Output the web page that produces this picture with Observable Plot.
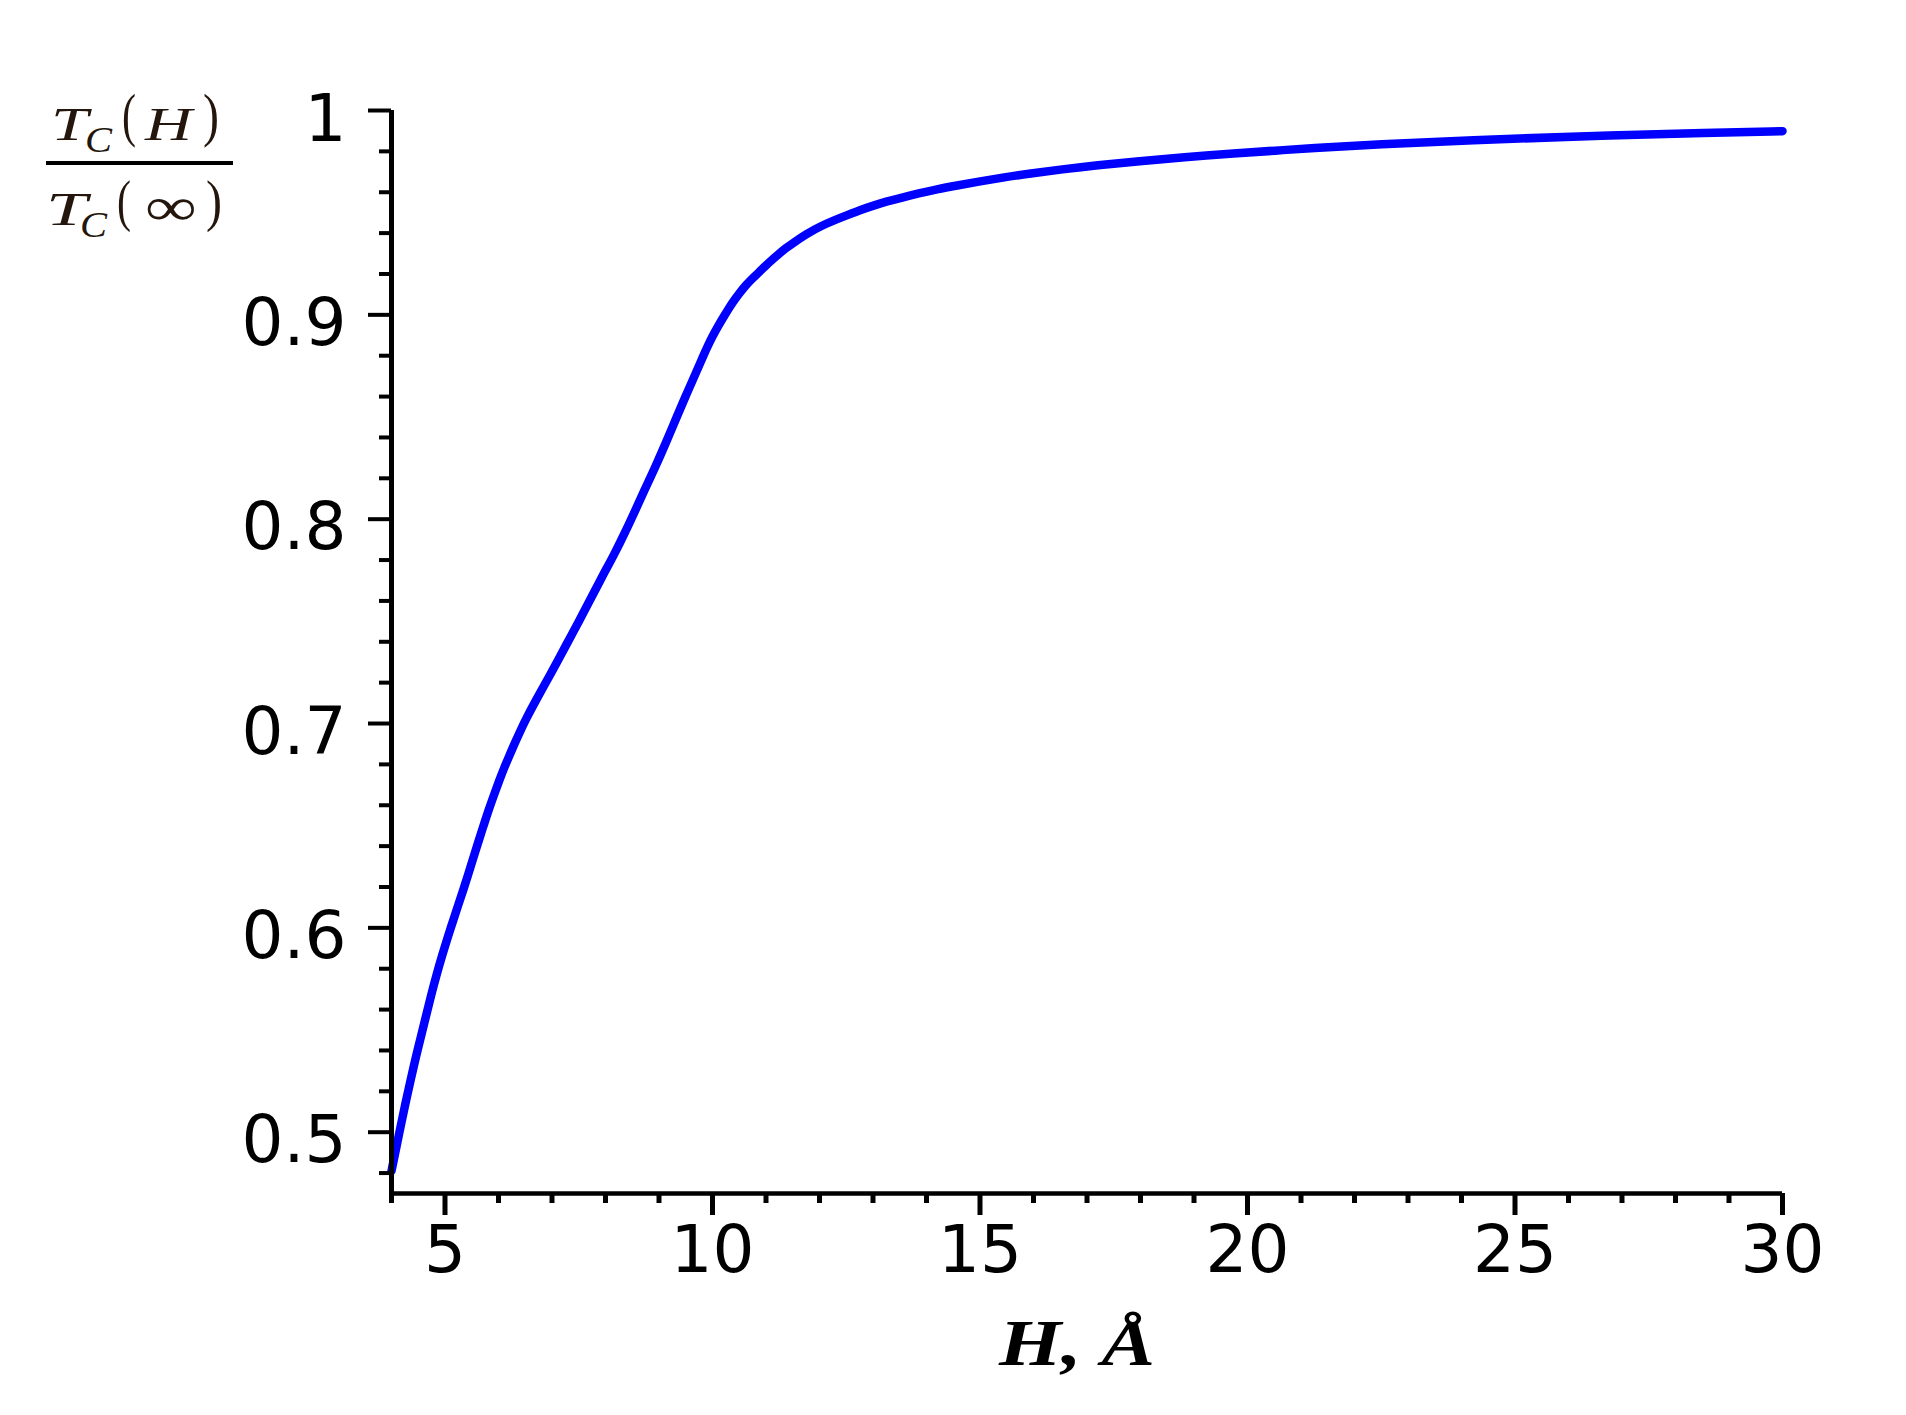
<!DOCTYPE html>
<html>
<head>
<meta charset="utf-8">
<script src="https://cdn.jsdelivr.net/npm/d3@7"></script>
<script src="https://cdn.jsdelivr.net/npm/@observablehq/plot@0.6"></script>
<style>
  html, body { margin: 0; padding: 0; background: #ffffff; }
  #chart { width: 1906px; height: 1415px; }
</style>
</head>
<body>
<div id="chart"></div>
<script>
// Film thickness H (Å)
const thicknessH = [
  4.00, 4.07, 4.17, 4.26, 4.36, 4.45, 4.56, 4.65, 4.74, 4.84,
  4.95, 5.04, 5.14, 5.24, 5.34, 5.43, 5.53, 5.64, 5.73, 5.83,
  5.93, 6.02, 6.11, 6.21, 6.30, 6.40, 6.50, 6.69, 6.97, 7.16,
  7.38, 7.56, 7.75, 7.94, 8.16, 8.34, 8.53, 8.72, 8.93, 9.12,
  9.31, 9.50, 9.71, 9.81, 9.90, 10.01, 10.10, 10.21, 10.30, 10.40,
  10.52, 10.62, 10.74, 10.87, 10.99, 11.12, 11.24, 11.36, 11.52, 11.74,
  12.03, 12.42, 12.76, 13.01, 13.26, 13.54, 13.85, 14.19, 14.57, 14.97,
  15.41, 15.94, 16.53, 17.18, 17.98, 18.80, 19.77, 20.55, 21.14, 22.45,
  24.15, 26.30, 28.70, 30.00
];
// Tc(H) / Tc(inf)
const tcRatio = [
  0.481, 0.4900, 0.5028, 0.5141, 0.5258, 0.5362, 0.5478, 0.5574, 0.5669, 0.5769,
  0.5868, 0.5945, 0.6026, 0.6106, 0.6184, 0.6258, 0.6343, 0.6435, 0.6508, 0.6588,
  0.6661, 0.6725, 0.6786, 0.6847, 0.6902, 0.6959, 0.7015, 0.7110, 0.7240, 0.7333,
  0.7440, 0.7528, 0.7624, 0.7720, 0.7826, 0.7921, 0.8027, 0.8138, 0.8255, 0.8368,
  0.8487, 0.8604, 0.8728, 0.8788, 0.8842, 0.8900, 0.8943, 0.8991, 0.9030, 0.9070,
  0.9111, 0.9144, 0.9177, 0.9208, 0.9240, 0.9271, 0.9298, 0.9324, 0.9354, 0.9393,
  0.9436, 0.9478, 0.9513, 0.9535, 0.9555, 0.9574, 0.9594, 0.9614, 0.9633, 0.9652,
  0.9671, 0.9692, 0.9712, 0.9732, 0.9752, 0.9771, 0.9790, 0.9804, 0.9815, 0.9834,
  0.9855, 0.9875, 0.9892, 0.9899
];

const xMajorTicks = [5, 10, 15, 20, 25, 30];
const xTickLabels = ["5", "10", "15", "20", "25", "30"];
const xMinorTicks = [4, 6, 7, 8, 9, 11, 12, 13, 14, 16, 17, 18, 19, 21, 22, 23, 24, 26, 27, 28, 29];
const yMajorTicks = [0.5, 0.6, 0.7, 0.8, 0.9, 1.0];
const yTickLabels = ["0.5", "0.6", "0.7", "0.8", "0.9", "1"];
const yMinorTicks = [0.48, 0.52, 0.54, 0.56, 0.58, 0.62, 0.64, 0.66, 0.68, 0.72, 0.74, 0.76, 0.78,
                     0.82, 0.84, 0.86, 0.88, 0.92, 0.94, 0.96, 0.98];
const xDomain = [4, 30];
const yDomain = [0.47, 1];
const xAxisLabel = "H, Å";

const rows = thicknessH.map((h, i) => ({h, r: tcRatio[i]}));

const chart = Plot.plot({
  width: 1906,
  height: 1415,
  marginLeft: 391,
  marginRight: 124,
  marginTop: 110,
  marginBottom: 222,
  x: {domain: xDomain},
  y: {domain: yDomain},
  style: {fontFamily: "DejaVu Sans", color: "black", background: "white"},
  marks: [
    Plot.line(rows, {x: "h", y: "r", stroke: "#0000ff", strokeWidth: 8.5, curve: "basis"}),
    Plot.ruleX([xDomain[0]], {stroke: "black", strokeWidth: 5}),
    Plot.ruleY([yDomain[0]], {stroke: "black", strokeWidth: 4.5}),
    Plot.axisX(xMajorTicks, {tickSize: 22, strokeWidth: 5, fill: "none", label: null}),
    Plot.axisX(xMinorTicks, {tickSize: 10, strokeWidth: 5, fill: "none", label: null}),
    Plot.axisY(yMajorTicks, {tickSize: 23, strokeWidth: 4, fill: "none", label: null}),
    Plot.axisY(yMinorTicks, {tickSize: 12, strokeWidth: 4, fill: "none", label: null}),
    Plot.text(xMajorTicks, {x: d => d, text: (d, i) => xTickLabels[i], frameAnchor: "bottom",
      lineAnchor: "top", dy: 32, fontSize: 66, fill: "black"}),
    Plot.text(yMajorTicks, {y: d => d, text: (d, i) => yTickLabels[i], frameAnchor: "left",
      textAnchor: "end", dx: -45, dy: 9, fontSize: 66, fill: "black"})
  ]
});

document.getElementById("chart").appendChild(chart);

// Axis titles
const svg = d3.select(chart);
svg.append("text")
  .attr("x", 999).attr("y", 1365)
  .attr("text-anchor", "start")
  .attr("font-family", "Liberation Serif")
  .attr("font-style", "italic").attr("font-weight", "bold")
  .attr("font-size", 66)
  .attr("textLength", 156).attr("lengthAdjust", "spacingAndGlyphs")
  .attr("fill", "black")
  .text(xAxisLabel);

const labColor = "#24160c";
const lab = svg.append("g").attr("font-family", "Liberation Serif").attr("fill", labColor)
  .attr("text-anchor", "start");
function piece(txt, x, y, size, len, italic) {
  const t = lab.append("text").attr("x", x).attr("y", y).attr("font-size", size)
    .attr("text-anchor", "start")
    .attr("font-style", italic ? "italic" : "normal").text(txt);
  if (len) t.attr("textLength", len).attr("lengthAdjust", "spacingAndGlyphs");
  return t;
}
// numerator  T_C(H)
piece("T", 51, 140, 46, 37, true);
piece("C", 85, 152, 35, 27, true);
piece("(", 122, 135, 59, 14, false);
piece("H", 145, 140, 46, 47, true);
piece(")", 203, 135, 59, 16, false);
// fraction bar
lab.append("line").attr("x1", 46).attr("x2", 233).attr("y1", 163).attr("y2", 163)
  .attr("stroke", "black").attr("stroke-width", 4);
// denominator  T_C(∞)
piece("T", 46, 225, 46, 41, true);
piece("C", 80, 237, 35, 27, true);
piece("(", 117, 220, 57, 14, false);
piece("∞", 145, 225, 54, 52, false);
piece(")", 206, 220, 57, 16, false);
</script>
</body>
</html>
